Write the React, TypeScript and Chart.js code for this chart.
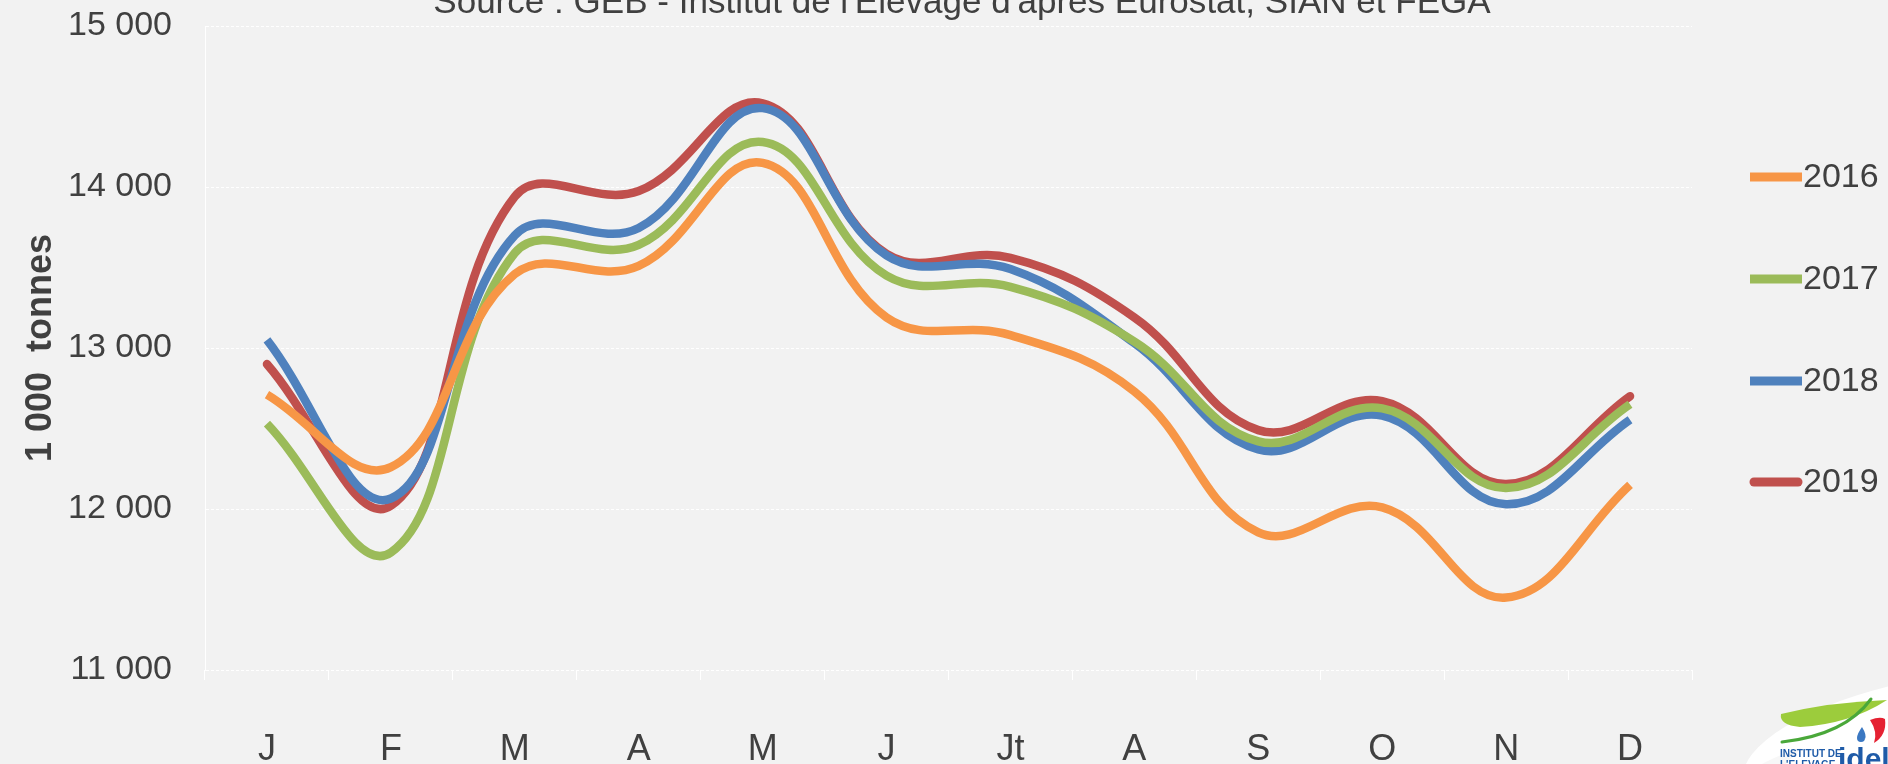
import React, { useEffect, useRef } from "react";
import { Chart, registerables } from "chart.js";

Chart.register(...registerables);

const months = ["J", "F", "M", "A", "M", "J", "Jt", "A", "S", "O", "N", "D"];
const years = ["2016", "2017", "2018", "2019"];
const s2016 = [12710, 12260, 13460, 13510, 14150, 13190, 13080, 12730, 11855, 12010, 11450, 12150];
const s2017 = [12530, 11730, 13590, 13640, 14280, 13450, 13380, 13040, 12420, 12625, 12130, 12650];
const s2018 = [13050, 12065, 13700, 13745, 14490, 13575, 13490, 13030, 12370, 12580, 12030, 12555];
const s2019 = [12900, 12020, 13940, 13975, 14520, 13585, 13560, 13190, 12490, 12670, 12155, 12700];
const colors = ["#F79646", "#9BBB59", "#4F81BD", "#C0504D"];
const yTicks = [11000, 12000, 13000, 14000, 15000];
const sourceText = "Source : GEB - Institut de l'Elevage d'après Eurostat, SIAN et FEGA";
const yTitle = "1 000  tonnes";

const FONT = "'Liberation Sans', Arial, sans-serif";
const TEXT = "#404040";

const fmt = (v: number) => String(v).replace(/\B(?=(\d{3})+(?!\d))/g, " ");

const extrasPlugin = {
  id: "extras",
  afterDraw(chart: any) {
    const ctx = chart.ctx;
    ctx.save();
    // source title (clipped at top)
    let size = 33;
    ctx.font = `${size}px ${FONT}`;
    const w = ctx.measureText(sourceText).width;
    size = size * 1058 / w;
    ctx.font = `${size}px ${FONT}`;
    ctx.fillStyle = TEXT;
    ctx.textAlign = "center";
    ctx.textBaseline = "alphabetic";
    ctx.fillText(sourceText, 962, 13);

    // legend
    const ys = [177, 279, 381, 482];
    chart.data.datasets.forEach((ds: any, i: number) => {
      ctx.beginPath();
      ctx.strokeStyle = ds.borderColor;
      ctx.lineWidth = 9;
      ctx.lineCap = i === 3 ? "round" : "butt";
      ctx.moveTo(i === 3 ? 1754 : 1750, ys[i]);
      ctx.lineTo(i === 3 ? 1798 : 1802, ys[i]);
      ctx.stroke();
      ctx.font = `34px ${FONT}`;
      ctx.fillStyle = TEXT;
      ctx.textAlign = "left";
      ctx.textBaseline = "middle";
      ctx.fillText(ds.label, 1803, ys[i] + 1);
    });

    // logo
    ctx.fillStyle = "#ffffff";
    ctx.beginPath();
    ctx.ellipse(1920, 745, 180, 64, -0.2, 0, Math.PI * 2);
    ctx.fill();
    ctx.fillStyle = "#f7f7f7";
    ctx.beginPath();
    ctx.ellipse(1905, 772, 170, 45, -0.12, Math.PI * 0.9, Math.PI * 1.3);
    ctx.fill();
    // light green leaf
    ctx.fillStyle = "#9ccc3c";
    ctx.beginPath();
    ctx.moveTo(1781, 714);
    ctx.quadraticCurveTo(1830, 702, 1887, 700);
    ctx.quadraticCurveTo(1850, 724, 1800, 727);
    ctx.quadraticCurveTo(1779, 725, 1781, 714);
    ctx.fill();
    // dark green stroke
    ctx.strokeStyle = "#4aa83a";
    ctx.lineWidth = 3;
    ctx.lineCap = "round";
    ctx.beginPath();
    ctx.moveTo(1782, 742);
    ctx.quadraticCurveTo(1845, 735, 1871, 699);
    ctx.stroke();
    // red
    ctx.fillStyle = "#e52132";
    ctx.beginPath();
    ctx.moveTo(1870, 720);
    ctx.quadraticCurveTo(1880, 716, 1885, 719);
    ctx.quadraticCurveTo(1887, 735, 1874, 743);
    ctx.quadraticCurveTo(1878, 732, 1870, 720);
    ctx.fill();
    // blue drop
    ctx.fillStyle = "#3b78c2";
    ctx.beginPath();
    ctx.moveTo(1862, 727);
    ctx.quadraticCurveTo(1867, 735, 1865, 739);
    ctx.arc(1861, 738, 4, 0, Math.PI);
    ctx.quadraticCurveTo(1857, 734, 1862, 727);
    ctx.fill();
    // text
    ctx.fillStyle = "#1f5ba8";
    ctx.textAlign = "left";
    ctx.textBaseline = "alphabetic";
    ctx.font = `bold 10px ${FONT}`;
    ctx.fillText("INSTITUT DE", 1780, 757);
    ctx.fillText("L'ELEVAGE", 1780, 768);
    ctx.font = `bold 30px ${FONT}`;
    ctx.fillText("idele", 1838, 769);
    ctx.restore();
  },
};

export default function App() {
  const ref = useRef<HTMLCanvasElement | null>(null);
  useEffect(() => {
    document.body.style.margin = "0";
    document.body.style.background = "#f2f2f2";
    const series = [s2016, s2017, s2018, s2019];
    const chart = new Chart(ref.current as HTMLCanvasElement, {
      type: "line",
      data: {
        labels: months,
        datasets: years.map((y, i) => ({
          label: y,
          data: series[i],
          borderColor: colors[i],
          backgroundColor: colors[i],
          borderWidth: 8.5,
          borderCapStyle: i === 3 ? "round" : "butt",
          pointRadius: 0,
          pointHoverRadius: 0,
          tension: 0.4,
          fill: false,
        })),
      },
      options: {
        animation: false,
        responsive: false,
        devicePixelRatio: 1,
        layout: { padding: { left: 0, top: 26, right: 196, bottom: 0 } },
        plugins: {
          legend: { display: false },
          tooltip: { enabled: false },
          title: { display: false },
        },
        scales: {
          x: {
            type: "category",
            offset: true,
            grid: {
              offset: true,
              drawOnChartArea: false,
              drawTicks: true,
              tickLength: 10,
              color: "#ffffff",
              lineWidth: 1,
            },
            border: { display: false },
            ticks: {
              font: { family: FONT, size: 36 },
              color: TEXT,
              padding: 48,
              maxRotation: 0,
              autoSkip: false,
            },
            afterFit: (s: any) => {
              s.height = 94;
              s.paddingLeft = 0;
              s.paddingRight = 0;
            },
          },
          y: {
            min: 11000,
            max: 15000,
            afterBuildTicks: (s: any) => {
              s.ticks = yTicks.map((v) => ({ value: v }));
            },
            grid: {
              color: "#ffffff",
              lineWidth: 1,
              drawTicks: false,
            },
            border: { display: true, color: "#ffffff", width: 1, dash: [3, 2] },
            ticks: {
              font: { family: FONT, size: 34 },
              color: TEXT,
              padding: 33,
              callback: (v: any) => fmt(Number(v)),
            },
            title: {
              display: true,
              text: yTitle,
              color: TEXT,
              font: { family: FONT, size: 36, weight: "bold" },
              padding: { top: 19, bottom: 0 },
            },
            afterFit: (s: any) => {
              s.width = 205;
              s.paddingTop = 0;
              s.paddingBottom = 0;
            },
          },
        },
      },
      plugins: [extrasPlugin],
    } as any);
    return () => chart.destroy();
  }, []);
  return (
    <div style={{ position: "fixed", left: 0, top: 0, width: 1888, height: 764, background: "#f2f2f2" }}>
      <canvas ref={ref} width={1888} height={764} style={{ display: "block" }} />
    </div>
  );
}
